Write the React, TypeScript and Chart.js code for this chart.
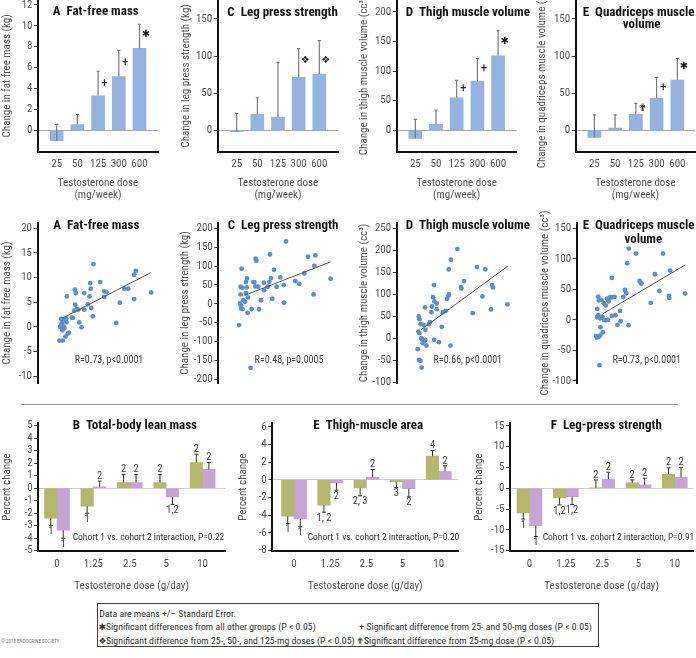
import React, { useEffect, useRef } from 'react';
import { Chart, registerables } from 'chart.js';

Chart.register(...registerables);

const FONT = '"Roboto Condensed", "Open Sans", sans-serif';
const SYMFONT = '"DejaVu Sans", "Noto Sans", sans-serif';
Chart.defaults.font.family = FONT;
Chart.defaults.color = '#555';

// ---------------- DATA ----------------
const doseMg = ['25', '50', '125', '300', '600'];
const doseG = ['0', '1.25', '2.5', '5', '10'];

// Top row: mean change by dose (mg/week), error-bar top, significance symbols
const ffmMean = [-1.0, 0.55, 3.3, 5.15, 7.85];
const ffmErr = [0.57, 1.53, 5.65, 7.65, 10.15];
const ffmSym = ['', '', '+', '+', '✱'];
const ffmSymAt = [0, 0, 4.5, 6.5, 9.15];

const legMean = [-1.9, 21.6, 17.9, 71.4, 75.9];
const legErr = [22.9, 43.9, 91.6, 110, 120.8];
const legSym = ['', '', '', '❖', '❖'];
const legSymAt = [0, 0, 0, 94.7, 94.7];

const thighMean = [-13.5, 10.1, 55, 83.3, 126];
const thighErr = [18.6, 34.3, 84.5, 121, 169];
const thighSym = ['', '', '+', '+', '✱'];
const thighSymAt = [0, 0, 70.9, 104.7, 150.8];

const quadMean = [-9.4, 3.1, 21.6, 43.1, 67.8];
const quadErr = [20.7, 20.7, 36.4, 71.4, 97];
const quadSym = ['', '', '✟', '+', '✱'];
const quadSymAt = [0, 0, 29.6, 57.4, 85.7];

const ffmTicks = [0, 2, 4, 6, 8, 10, 12];
const legTicks = [0, 50, 100, 150];
const thighTicks = [0, 50, 100, 150, 200];
const quadTicks = [0, 50, 100, 150];

// Middle row: scatter points [x, change]
const ffmPts: [number, number][] = [
  [22, -2.76], [25.3, -2.76], [28, -1.95], [30.3, -1.35], [31.3, -1.14], [22.7, 0], [23.7, 0.27],
  [24.7, -0.2], [26, 0.13], [24.3, 0.81], [26, 1.48], [23.7, 1.62], [28, 1.48], [29, 0.94],
  [25, -0.67], [27, -0.2], [29.3, 6.19], [34.3, 1.88], [35.3, 1.82], [36.7, 3.3], [37.7, 4.51],
  [37.3, 7.54], [38.3, 6.86], [39.3, 3.63], [40.7, 3.5], [41.7, 0.94], [44, -0.07], [46.7, 6.86],
  [46.7, 3.5], [50.3, 4.58], [52, 6.19], [52.7, 8.88], [53.3, 7.74], [53.7, 3.84], [55.3, 2.15],
  [56, 12.72], [62.7, 9.08], [66.7, 6.06], [66.7, 7.2], [69, 7.07], [78.7, 0.81], [82.3, 4.91],
  [87, 7.74], [90.7, 7.74], [96.7, 5.65], [96.7, 10.57], [98.3, 11.37], [113.7, 7.0], [28.7, 1.75],
  [24.7, 1.01],
];
const ffmFit: [number, number][] = [[25, 1.8], [113.3, 11.0]];

const legPts: [number, number][] = [
  [20.7, -56.5], [32.3, -169.6], [23.3, 92.8], [22.3, 45.1], [24, 42.4], [21.7, 0.9], [22.7, -5.3],
  [23, -13.3], [24.3, -14.1], [25, 9.7], [26.7, 5.3], [27.7, 28.3], [28.3, 43.3], [27.7, 57.4],
  [28.7, 67.1], [29.3, -23.9], [29.7, 16.8], [33.3, -14.1], [35, 57.4], [36, 57.4], [37.3, 119.3],
  [38, 114], [37, 45.9], [40, 45.1], [42.7, 9.7], [40.7, -15], [45.7, 36.2], [45.7, 55.7],
  [49.3, 45.1], [51, 58.3], [51.7, 130.7], [52.7, 68], [54, 13.3], [55.7, 90.1], [58.3, 45.1],
  [62, 69.8], [65.3, 49.5], [65.7, 2.7], [67.7, 165.2], [77, 60.1], [81, 53], [86, 80.4],
  [89.7, 124.6], [95.3, 24.7], [96, 100.7], [97, 128.1], [112.3, 66.3], [22.3, 24.7],
];
const legFit: [number, number][] = [[26, 22], [112.3, 111]];

const thighPts: [number, number][] = [
  [21, -24.2], [22.3, -48.5], [23.7, -50.8], [25, -65.9], [21.7, 15.9], [22.7, 12.1], [22, 50],
  [22.7, 43.9], [24, 32.6], [24.7, 0.8], [25.3, -1.5], [26, -10.6], [27.3, -5.3], [28.7, -3],
  [29.7, -15.9], [26.7, 31.1], [28.7, 19.7], [28.3, 70.5], [32, 32.6], [33.3, 37.1], [34.7, 59.8],
  [35.3, 72.7], [36.3, 93.9], [37.3, 121.2], [37.3, -3], [37.7, 84.1], [40, 79.5], [40, 66.7],
  [42.3, -8.3], [45, 26.5], [46, 59.8], [49, 62.9], [50.3, 90.2], [51.7, 97], [52.3, 100],
  [52, 156.8], [54.3, 178.8], [53.7, -15.9], [60.7, 203], [64.3, 116.7], [64.7, 113.6],
  [67.3, 130.3], [76, 57.6], [80.3, 162.1], [85.7, 95.5], [88.7, 156.8], [94.3, 65.9],
  [95.3, 121.2], [96.3, 115.9], [110.7, 77.3],
];
const thighFit: [number, number][] = [[24.3, 20], [111, 164]];

const quadPts: [number, number][] = [
  [19.7, -26.2], [20.7, -28.9], [22.7, -27.3], [24, -25.7], [23.3, -74.2], [21, 18], [22, 38.2],
  [22.7, 32.2], [21, 4.4], [22.3, 7.6], [24, 2.7], [24.3, -12], [25.3, 32.8], [26.7, -20.2],
  [26.3, 5.5], [27.7, 27.3], [28, 0], [29, -0.5], [29.7, 23.5], [31, 34.9], [32, 0], [32.7, 30.6],
  [34.3, 37.1], [36, 68.8], [36.3, 37.1], [36, 6.6], [38.7, 37.7], [39.7, 7.6], [41.7, -8.2],
  [44.3, 14.7], [45, -2.2], [47.7, 37.7], [49.3, 49.1], [50.7, 43.7], [51.7, 92.8], [53, -8.7],
  [53.3, 116.8], [60.7, 108.6], [64.3, 63.9], [65.7, 60], [66.3, 59.5], [75.7, 27.8], [80, 74.8],
  [84.7, 47.5], [88.3, 108.6], [94.3, 39.3], [94.7, 36], [95.7, 80.8], [111, 43.1],
];
const quadFit: [number, number][] = [[26.7, 10], [111, 90]];

const ffmScTicks = [-10, -5, 0, 5, 10, 15, 20];
const legScTicks = [-200, -150, -100, -50, 0, 50, 100, 150, 200];
const thighScTicks = [-100, -50, 0, 50, 100, 150, 200, 250];
const quadScTicks = [-100, -50, 0, 50, 100, 150];

// Bottom row: percent change by dose (g/day), cohort 1 (green) and cohort 2 (purple)
const leanC1 = [-2.4, -1.44, 0.45, 0.45, 2.05];
const leanC1Err = [-3.0, -2.0, 1.07, 1.07, 2.7];
const leanC1Lab = ['1', '1', '2', '2', '2'];
const leanC2 = [-3.36, 0.1, 0.45, -0.7, 1.5];
const leanC2Err = [-4.0, 0.56, 1.07, -1.3, 2.05];
const leanC2Lab = ['1', '2', '2', '1,2', '2'];

const areaC1 = [-4.1, -2.87, -0.9, -0.23, 2.68];
const areaC1Err = [-4.94, -3.66, -1.8, -0.87, 3.32];
const areaC1Lab = ['1', '1, 2', '2, 3', '3', '4'];
const areaC2 = [-4.42, -0.34, 0.3, -0.98, 0.94];
const areaC2Err = [-5.3, -1.17, 1.17, -1.92, 1.58];
const areaC2Lab = ['1', '2', '2', '2', '2'];

const pressC1 = [-5.9, -2.3, 0.1, 1.3, 3.36];
const pressC1Err = [-7.4, -4.0, 2.0, 2.0, 4.9];
const pressC1Lab = ['1', '1,2', '2', '2', '2'];
const pressC2 = [-9.0, -2.0, 2.2, 0.8, 2.64];
const pressC2Err = [-11.6, -3.9, 3.84, 2.4, 5.0];
const pressC2Lab = ['1', '1,2', '2', '2', '2'];

const leanTicks = [-5, -4, -3, -2, -1, 0, 1, 2, 3, 4, 5];
const areaTicks = [-8, -6, -4, -2, 0, 2, 4, 6];
const pressTicks = [-15, -10, -5, 0, 5, 10, 15];

// ---------------- STYLE ----------------
const BLUE = '#94b3e0';
const DOT = '#5d8ece';
const GREEN = '#b4b86c';
const PURPLE = '#c4a5d3';
const AXIS = '#111';
const TXT = '#555';

type TextItem = { t: string; x: number; y: number; font: string; color: string; align: CanvasTextAlign };
type ErrItem = { ds: number; means: number[]; ends: number[]; labels?: string[]; color: string; width: number; cap: number };
type MarkItem = { ds: number; syms: string[]; at: number[]; dx: number };

function decor(texts: TextItem[], errs: ErrItem[], marks: MarkItem[]) {
  return {
    id: 'decor',
    afterDraw(chart: any) {
      const ctx: CanvasRenderingContext2D = chart.ctx;
      const ys = chart.scales.y;
      ctx.save();
      errs.forEach((e) => {
        const meta = chart.getDatasetMeta(e.ds);
        meta.data.forEach((el: any, j: number) => {
          const x = el.x;
          const y0 = ys.getPixelForValue(e.means[j]);
          const y1 = ys.getPixelForValue(e.ends[j]);
          ctx.strokeStyle = e.color;
          ctx.lineWidth = e.width;
          ctx.beginPath();
          ctx.moveTo(x, y0);
          ctx.lineTo(x, y1);
          ctx.moveTo(x - e.cap, y1);
          ctx.lineTo(x + e.cap, y1);
          ctx.stroke();
          if (e.labels && e.labels[j]) {
            const up = e.ends[j] >= e.means[j];
            ctx.fillStyle = '#444';
            ctx.font = '10.5px ' + FONT;
            ctx.textAlign = 'center';
            ctx.textBaseline = 'middle';
            ctx.fillText(e.labels[j], x, up ? y1 - 5 : y1 + 6);
          }
        });
      });
      marks.forEach((m) => {
        const meta = chart.getDatasetMeta(m.ds);
        meta.data.forEach((el: any, j: number) => {
          const s = m.syms[j];
          if (!s) return;
          ctx.fillStyle = '#222';
          ctx.font = s === '+' ? '13px ' + FONT : '10px ' + SYMFONT;
          ctx.textAlign = 'center';
          ctx.textBaseline = 'middle';
          ctx.fillText(s, el.x + m.dx, ys.getPixelForValue(m.at[j]));
        });
      });
      texts.forEach((t) => {
        ctx.fillStyle = t.color;
        ctx.font = t.font;
        ctx.textAlign = t.align;
        ctx.textBaseline = 'middle';
        ctx.fillText(t.t, t.x, t.y);
      });
      ctx.restore();
    },
  };
}

const BOLD = 'bold 13px ' + FONT;
const title = (t: string, x: number, y: number, align: CanvasTextAlign = 'left'): TextItem => ({
  t, x, y, font: BOLD, color: '#111', align,
});

function yAxis(min: number, max: number, ticks: number[], width: number, text: string, zeroLine: string | null) {
  return {
    min,
    max,
    afterBuildTicks: (s: any) => {
      s.ticks = ticks.map((v) => ({ value: v }));
    },
    afterFit: (s: any) => {
      s.width = width;
      s.paddingTop = 0;
      s.paddingBottom = 0;
    },
    ticks: { font: { size: 11 }, color: TXT, padding: 1.5, autoSkip: false },
    grid: {
      drawTicks: true,
      tickLength: 4,
      tickColor: '#444',
      tickWidth: 1,
      lineWidth: 1,
      color: (c: any) => (zeroLine && c.tick && c.tick.value === 0 ? zeroLine : 'rgba(0,0,0,0)'),
    },
    border: { display: true, color: AXIS, width: 2 },
    title: {
      display: true,
      text,
      color: TXT,
      font: { size: 11, lineHeight: 1 },
      padding: { top: 1.5, bottom: 0 },
    },
  };
}

function xCat(labels: string[], min: number, max: number, height: number, text: string | string[], pad: number) {
  return {
    type: 'linear',
    offset: false,
    min,
    max,
    afterBuildTicks: (s: any) => {
      s.ticks = labels.map((_, i) => ({ value: i }));
    },
    afterFit: (s: any) => {
      s.height = height;
      s.paddingLeft = 0;
      s.paddingRight = 0;
    },
    ticks: {
      callback: (v: number) => labels[v] ?? '',
      font: { size: 11 },
      color: TXT,
      padding: pad,
      maxRotation: 0,
      autoSkip: false,
    },
    grid: { display: false, drawTicks: false, offset: false },
    border: { display: true, color: AXIS, width: 2 },
    title: {
      display: true,
      text,
      color: TXT,
      font: { size: 11, lineHeight: 1.09 },
      padding: { top: 0, bottom: 0 },
    },
  };
}

const base = (padding: any) => ({
  animation: false as const,
  responsive: false,
  events: [] as any[],
  layout: { padding },
  plugins: { legend: { display: false }, tooltip: { enabled: false } },
});

type TopP = {
  mean: number[]; err: number[]; sym: string[]; symAt: number[]; ticks: number[];
  yMin: number; yMax: number; yW: number; padR: number; xMin: number; xMax: number;
  yTitle: string; texts: TextItem[];
};
function topConfig(p: TopP) {
  return {
    type: 'bar',
    data: {
      datasets: [
        { data: p.mean.map((v, i) => ({ x: i, y: v })), backgroundColor: BLUE, borderWidth: 0, barThickness: 13 },
      ],
    },
    options: {
      ...base({ top: 0, right: p.padR, bottom: 0, left: 0 }),
      scales: {
        x: xCat(doseMg, p.xMin, p.xMax, 49.3, ['Testosterone dose', '(mg/week)'], 5.5),
        y: yAxis(p.yMin, p.yMax, p.ticks, p.yW, p.yTitle, '#aaa'),
      },
    },
    plugins: [
      decor(p.texts, [{ ds: 0, means: p.mean, ends: p.err, color: '#7a7a7a', width: 1.2, cap: 1.6 }], [
        { ds: 0, syms: p.sym, at: p.symAt, dx: 6.5 },
      ]),
    ],
  };
}

type MidP = {
  pts: [number, number][]; fit: [number, number][]; ticks: number[]; yMin: number; yMax: number;
  yW: number; padR: number; xMax: number; yTitle: string; texts: TextItem[];
};
function midConfig(p: MidP) {
  return {
    type: 'scatter',
    data: {
      datasets: [
        {
          type: 'line',
          data: p.fit.map(([x, y]) => ({ x, y })),
          borderColor: '#555',
          borderWidth: 1,
          pointRadius: 0,
          showLine: true,
          fill: false,
        },
        {
          data: p.pts.map(([x, y]) => ({ x, y })),
          backgroundColor: DOT,
          borderWidth: 0,
          pointRadius: 2.4,
        },
      ],
    },
    options: {
      ...base({ top: 17.7, right: p.padR, bottom: 21.7, left: 0 }),
      scales: {
        x: { type: 'linear', display: false, min: 0, max: p.xMax },
        y: yAxis(p.yMin, p.yMax, p.ticks, p.yW, p.yTitle, null),
      },
    },
    plugins: [decor(p.texts, [], [])],
  };
}

type BotP = {
  c1: number[]; c1e: number[]; c1l: string[]; c2: number[]; c2e: number[]; c2l: string[];
  ticks: number[]; yMin: number; yMax: number; yW: number; padR: number; xMin: number; xMax: number;
  texts: TextItem[];
};
function botConfig(p: BotP) {
  return {
    type: 'bar',
    data: {
      datasets: [
        { data: p.c1.map((v, i) => ({ x: i, y: v })), backgroundColor: GREEN, borderWidth: 0, barThickness: 12.5 },
        { data: p.c2.map((v, i) => ({ x: i, y: v })), backgroundColor: PURPLE, borderWidth: 0, barThickness: 12.5 },
      ],
    },
    options: {
      ...base({ top: 8.3, right: p.padR, bottom: 0, left: 0 }),
      scales: {
        x: xCat(doseG, p.xMin, p.xMax, 41.3, 'Testosterone dose (g/day)', 6.5),
        y: yAxis(p.yMin, p.yMax, p.ticks, p.yW, 'Percent change', '#cfcfcf'),
      },
    },
    plugins: [
      decor(
        p.texts,
        [
          { ds: 0, means: p.c1, ends: p.c1e, labels: p.c1l, color: '#333', width: 1, cap: 2 },
          { ds: 1, means: p.c2, ends: p.c2e, labels: p.c2l, color: '#333', width: 1, cap: 2 },
        ],
        [],
      ),
    ],
  };
}

const rText = (t: string, x: number): TextItem => ({ t, x, y: 155, font: '10px ' + FONT, color: '#444', align: 'center' });
const note = (t: string, x: number): TextItem => ({ t, x, y: 122.3, font: '9.5px ' + FONT, color: '#333', align: 'left' });

function ChartCanvas({ left, top, width, height, make }: { left: number; top: number; width: number; height: number; make: () => any }) {
  const ref = useRef<HTMLCanvasElement>(null);
  useEffect(() => {
    const c = new Chart(ref.current as HTMLCanvasElement, make());
    return () => c.destroy();
  }, []);
  return (
    <canvas ref={ref} width={width} height={height} style={{ position: 'absolute', left, top, width, height }} />
  );
}

const Sym = ({ s }: { s: string }) => (
  <span style={{ display: 'inline-block', width: 7.5, fontFamily: SYMFONT, fontSize: 9 }}>{s}</span>
);

export default function App() {
  const legendLine: React.CSSProperties = {
    position: 'absolute',
    lineHeight: '13px',
    height: 13,
    whiteSpace: 'nowrap',
  };
  return (
    <div
      style={{
        position: 'fixed',
        left: 0,
        top: 0,
        width: 696,
        height: 658,
        background: '#fff',
        overflow: 'hidden',
        fontFamily: FONT,
      }}
    >
      {/* Top row */}
      <ChartCanvas left={0} top={0} width={178} height={201} make={() => topConfig({
        mean: ffmMean, err: ffmErr, sym: ffmSym, symAt: ffmSymAt, ticks: ffmTicks,
        yMin: -2.05, yMax: 12.47, yW: 38, padR: 20, xMin: -0.903, xMax: 4.894,
        yTitle: 'Change in fat free mass (kg)', texts: [title('A  Fat-free mass', 52.7, 12)],
      })} />
      <ChartCanvas left={179} top={0} width={178} height={201} make={() => topConfig({
        mean: legMean, err: legErr, sym: legSym, symAt: legSymAt, ticks: legTicks,
        yMin: -28.8, yMax: 175.6, yW: 38.7, padR: 18.7, xMin: -0.92, xMax: 4.92,
        yTitle: 'Change in leg press strength (kg)', texts: [title('C  Leg press strength', 48.3, 12.5)],
      })} />
      <ChartCanvas left={357} top={0} width={178} height={201} make={() => topConfig({
        mean: thighMean, err: thighErr, sym: thighSym, symAt: thighSymAt, ticks: thighTicks,
        yMin: -36.1, yMax: 220.1, yW: 39.7, padR: 18.3, xMin: -0.9, xMax: 4.9,
        yTitle: 'Change in thigh muscle volume (cc³)', texts: [title('D  Thigh muscle volume', 48.7, 12.5)],
      })} />
      <ChartCanvas left={535} top={0} width={161} height={201} make={() => topConfig({
        mean: quadMean, err: quadErr, sym: quadSym, symAt: quadSymAt, ticks: quadTicks,
        yMin: -28.8, yMax: 175.6, yW: 40.7, padR: 1, xMin: -0.9, xMax: 4.85,
        yTitle: 'Change in quadriceps muscle volume (cc³)',
        texts: [title('E  Quadriceps muscle', 47.7, 12.5), title('volume', 106.7, 25, 'center')],
      })} />

      {/* Middle row */}
      <ChartCanvas left={0} top={205} width={178} height={200} make={() => midConfig({
        pts: ffmPts, fit: ffmFit, ticks: ffmScTicks, yMin: -11.4, yMax: 21.1, yW: 37.5, padR: 15.5, xMax: 125,
        yTitle: 'Change in fat free mass (kg)',
        texts: [title('A  Fat-free mass', 53.3, 21), rText('R=0.73, p<0.0001', 109)],
      })} />
      <ChartCanvas left={178} top={205} width={178} height={200} make={() => midConfig({
        pts: legPts, fit: legFit, ticks: legScTicks, yMin: -210.6, yMax: 214.8, yW: 40.3, padR: 11, xMax: 126.7,
        yTitle: 'Change in leg press strength (kg)',
        texts: [title('C  Leg press strength', 49.7, 21), rText('R=0.48, p=0.0005', 111)],
      })} />
      <ChartCanvas left={357} top={205} width={178} height={200} make={() => midConfig({
        pts: thighPts, fit: thighFit, ticks: thighScTicks, yMin: -101.5, yMax: 262.7, yW: 39.7, padR: 13.3, xMax: 125,
        yTitle: 'Change in thigh muscle volume (cc³)',
        texts: [title('D  Thigh muscle volume', 48.7, 21), rText('R=0.66, p<0.0001', 110.8)],
      })} />
      <ChartCanvas left={538} top={205} width={158} height={200} make={() => midConfig({
        pts: quadPts, fit: quadFit, ticks: quadScTicks, yMin: -103.8, yMax: 159.2, yW: 38.7, padR: 1.3, xMax: 118,
        yTitle: 'Change in quadriceps muscle volume (cc³)',
        texts: [
          title('E  Quadriceps muscle', 44.7, 21),
          title('volume', 105.3, 34.3, 'center'),
          rText('R=0.73, p<0.0001', 108.7),
        ],
      })} />

      <div style={{ position: 'absolute', left: 21, top: 403.5, width: 657, height: 0, borderTop: '1.5px solid #999' }} />

      {/* Bottom row */}
      <ChartCanvas left={0} top={415} width={235} height={177} make={() => botConfig({
        c1: leanC1, c1e: leanC1Err, c1l: leanC1Lab, c2: leanC2, c2e: leanC2Err, c2l: leanC2Lab,
        ticks: leanTicks, yMin: -5, yMax: 5.18, yW: 38.3, padR: 10, xMin: -0.514, xMax: 4.615,
        texts: [title('B  Total-body lean mass', 72.7, 11), note('Cohort 1 vs. cohort 2 interaction, P=0.22', 72.7)],
      })} />
      <ChartCanvas left={236} top={415} width={236} height={177} make={() => botConfig({
        c1: areaC1, c1e: areaC1Err, c1l: areaC1Lab, c2: areaC2, c2e: areaC2Err, c2l: areaC2Lab,
        ticks: areaTicks, yMin: -8, yMax: 6.39, yW: 36.3, padR: 13.7, xMin: -0.6, xMax: 4.54,
        texts: [title('E  Thigh-muscle area', 77.3, 11), note('Cohort 1 vs. cohort 2 interaction, P=0.20', 71.7)],
      })} />
      <ChartCanvas left={472} top={415} width={224} height={177} make={() => botConfig({
        c1: pressC1, c1e: pressC1Err, c1l: pressC1Lab, c2: pressC2, c2e: pressC2Err, c2l: pressC2Lab,
        ticks: pressTicks, yMin: -15, yMax: 15.6, yW: 38, padR: 2.7, xMin: -0.537, xMax: 4.51,
        texts: [title('F  Leg-press strength', 78.7, 11), note('Cohort 1 vs. cohort 2 interaction, P=0.91', 70.7)],
      })} />

      {/* Legend box */}
      <div
        style={{
          position: 'absolute',
          left: 97,
          top: 603,
          width: 502,
          height: 44,
          boxSizing: 'border-box',
          border: '1px solid #444',
          fontSize: 9.8,
          color: '#333',
        }}
      >
        <div style={{ ...legendLine, left: 1.3, top: 2.8 }}>Data are means +/– Standard Error.</div>
        <div style={{ ...legendLine, left: 0.5, top: 16.2 }}><Sym s="✱" />Significant differences from all other groups (P &lt; 0.05)</div>
        <div style={{ ...legendLine, left: 261.3, top: 16.2 }}>+ Significant difference from 25- and 50-mg doses (P &lt; 0.05)</div>
        <div style={{ ...legendLine, left: 0.5, top: 29.8 }}><Sym s="❖" />Significant difference from 25-, 50-, and 125-mg doses (P &lt; 0.05)</div>
        <div style={{ ...legendLine, left: 258.5, top: 29.8 }}><Sym s="✟" />Significant difference from 25-mg dose (P &lt; 0.05)</div>
      </div>
      <div
        style={{
          position: 'absolute',
          left: 1,
          top: 637.5,
          fontSize: 5,
          lineHeight: '6px',
          color: '#777',
          whiteSpace: 'nowrap',
        }}
      >
        © 2018 ENDOCRINE SOCIETY
      </div>
    </div>
  );
}
